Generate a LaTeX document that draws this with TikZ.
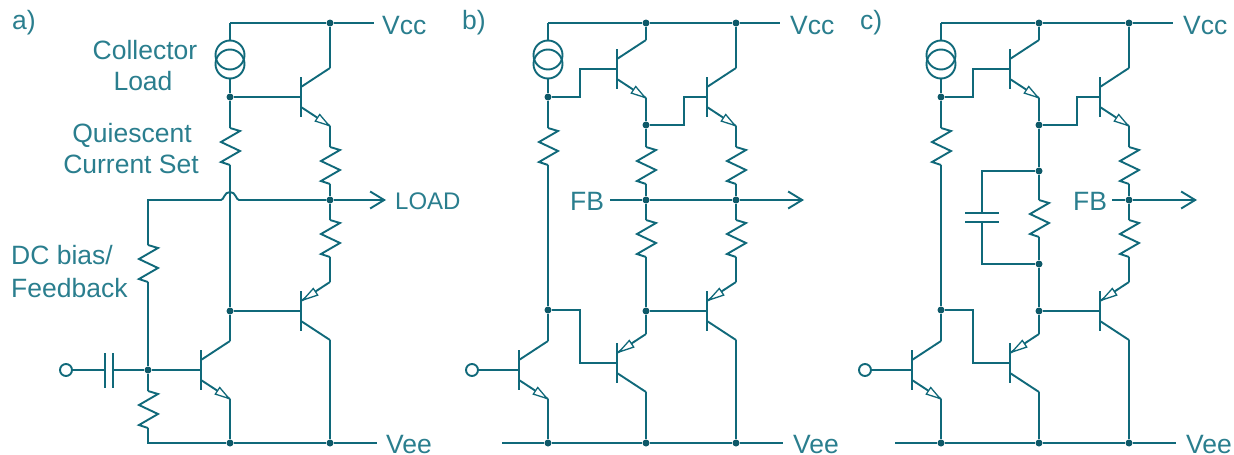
\documentclass[tikz,border=0pt]{standalone}
\usepackage{fontspec}
\setmainfont{Liberation Sans}
\usetikzlibrary{arrows.meta}
\definecolor{wire}{HTML}{10697A}
\definecolor{ink}{HTML}{2A7E8E}
\tikzset{
  wiring/.style={draw=wire,line width=1.9pt,line join=miter},
  dotj/.style={circle,fill=wire!85!black,draw=none,inner sep=0pt,minimum size=7pt},
  srcring/.style={circle,draw=wire,line width=1.9pt,inner sep=0pt,minimum size=29pt},
  portring/.style={circle,draw=wire,line width=1.9pt,inner sep=0pt,minimum size=12pt},
  lbl/.style={text=ink,inner sep=0pt,font=\fontsize{26.5}{30}\selectfont},
  outarrow/.style={-{Straight Barb[length=14pt,width=17pt,line width=1.9pt]}},
}
% transistor: name, bar x, base y; coordinates name (base), name-t, name-b
\newcommand\qbody[3]{%
  \coordinate (#1) at (#2,#3);
  \coordinate (#1-t) at (#2+29,#3-29);
  \coordinate (#1-b) at (#2+29,#3+29);
  \draw[wiring] (#2,#3-20) -- (#2,#3+20);
  \draw[wiring] (#2,#3-10) -- (#1-t);
  \draw[wiring] (#2,#3+10) -- (#1-b);
}
\newcommand\qnpn[3]{\qbody{#1}{#2}{#3}%
  \draw[draw=wire,line width=1.3pt,fill=white] (#2+28,#3+28.5) -- (#2+14.3,#3+24.1) -- (#2+18.7,#3+17.5) -- cycle;}
\newcommand\qpnp[3]{\qbody{#1}{#2}{#3}%
  \draw[draw=wire,line width=1.3pt,fill=white] (#2+2,#3-11) -- (#2+16.7,#3-15.9) -- (#2+12.3,#3-22.5) -- cycle;}
% resistor: name, x, top y
\newcommand\resist[3]{%
  \coordinate (#1-t) at (#2,#3);
  \coordinate (#1-b) at (#2,#3+37);
  \draw[wiring] (#1-t) -- (#2+10,#3+3) -- (#2-9,#3+14) -- (#2+10,#3+23) -- (#2-9,#3+34) -- (#1-b);
}
% current source: name, x
\newcommand\csource[2]{%
  \node[srcring] (#1u) at (#2,55) {};
  \node[srcring] (#1d) at (#2,64) {};
}
% common body of panels b and c
\newcommand\common[1]{%
  \coordinate (#1corner) at (548,23);
  \node[dotj] (#1vc1) at (646,23) {};
  \node[dotj] (#1vc2) at (736,23) {};
  \coordinate (#1vccend) at (780,23);
  \draw[wiring] (#1corner) -- (#1vc1) -- (#1vc2) -- (#1vccend);
  \csource{#1cs}{548}
  \node[dotj] (#1j1) at (548,97) {};
  \draw[wiring] (#1corner) -- (#1csu.north);
  \draw[wiring] (#1csd.south) -- (#1j1);
  \qnpn{#1q1}{617}{69}
  \qnpn{#1q2}{707}{97}
  \qnpn{#1q3}{519}{370}
  \qpnp{#1q4}{617}{363}
  \qpnp{#1q5}{707}{311}
  \draw[wiring] (#1j1) -- (580,97) -- (580,69) -- (#1q1);
  \draw[wiring] (#1q1-t) -- (#1vc1);
  \draw[wiring] (#1q2-t) -- (#1vc2);
  \node[dotj] (#1j2) at (646,125) {};
  \draw[wiring] (#1q1-b) -- (#1j2);
  \draw[wiring] (#1j2) -- (684,125) -- (684,97) -- (#1q2);
  \resist{#1r1}{548}{128}
  \node[dotj] (#1j3) at (548,310) {};
  \draw[wiring] (#1j1) -- (#1r1-t);
  \draw[wiring] (#1r1-b) -- (#1j3);
  \node[dotj] (#1j4) at (646,311) {};
  \draw[wiring] (#1j3) -- (580,310) -- (580,363) -- (#1q4);
  \draw[wiring] (#1j4) -- (#1q5);
  \draw[wiring] (#1q4-t) -- (#1j4);
  \node[dotj] (#1fb2) at (736,200) {};
  \resist{#1r2}{736}{147}
  \resist{#1r3}{736}{220}
  \draw[wiring] (#1q2-b) -- (#1r2-t);
  \draw[wiring] (#1r2-b) -- (#1fb2);
  \draw[wiring] (#1fb2) -- (#1r3-t);
  \draw[wiring] (#1r3-b) -- (#1q5-t);
  \node[portring] (#1in) at (472,370) {};
  \draw[wiring] (#1in) -- (#1q3);
  \draw[wiring] (#1q3-t) -- (#1j3);
  \coordinate (#1veestart) at (502,443);
  \coordinate (#1veeend) at (783,443);
  \node[dotj] (#1ve1) at (548,443) {};
  \node[dotj] (#1ve2) at (646,443) {};
  \node[dotj] (#1ve3) at (736,443) {};
  \draw[wiring] (#1veestart) -- (#1ve1) -- (#1ve2) -- (#1ve3) -- (#1veeend);
  \draw[wiring] (#1q3-b) -- (#1ve1);
  \draw[wiring] (#1q4-b) -- (#1ve2);
  \draw[wiring] (#1q5-b) -- (#1ve3);
  \node[lbl,anchor=west] (#1vcc) at (790,26) {Vcc};
  \node[lbl,anchor=west] (#1vee) at (793,444.5) {Vee};
}
\begin{document}
\begin{tikzpicture}[x=1pt,y=-1pt]
\useasboundingbox (0,0) rectangle (1234,455);
% ---------- panel a
\coordinate (acorner) at (230,23);
\node[dotj] (avc) at (330,23) {};
\coordinate (avccend) at (374,23);
\draw[wiring] (acorner) -- (avc) -- (avccend);
\csource{acs}{230}
\node[dotj] (aj1) at (230,97) {};
\draw[wiring] (acorner) -- (acsu.north);
\draw[wiring] (acsd.south) -- (aj1);
\qnpn{aq1}{301}{97}
\qpnp{aq2}{301}{311}
\qnpn{aq3}{201}{370}
\draw[wiring] (aj1) -- (aq1);
\draw[wiring] (aq1-t) -- (avc);
\resist{ar1}{230}{128}
\resist{ar2}{330}{147}
\resist{ar3}{330}{220}
\resist{ar4}{148}{245}
\resist{ar5}{148}{391}
\node[dotj] (aout) at (330,200) {};
\node[dotj] (aj2) at (230,311) {};
\node[dotj] (aj3) at (148,370) {};
\draw[wiring] (aj1) -- (ar1-t);
\draw[wiring] (ar1-b) -- (aj2);
\draw[wiring] (aj2) -- (aq2);
\draw[wiring] (aq3-t) -- (aj2);
\draw[wiring] (aq1-b) -- (ar2-t);
\draw[wiring] (ar2-b) -- (aout);
\draw[wiring] (aout) -- (ar3-t);
\draw[wiring] (ar3-b) -- (aq2-t);
\coordinate (afbcorner) at (148,200);
\coordinate (aloadtip) at (386,200);
\draw[wiring] (ar4-t) -- (afbcorner) -- (221,200) .. controls (224,200) and (224,192) .. (230,192) .. controls (236,192) and (236,200) .. (239,200) -- (aout);
\draw[wiring,outarrow] (aout) -- (aloadtip);
\draw[wiring] (ar4-b) -- (aj3);
\draw[wiring] (aj3) -- (ar5-t);
\node[portring] (ain) at (66,370) {};
\coordinate (acapl) at (105,370);
\coordinate (acapr) at (113,370);
\draw[wiring] (ain) -- (acapl);
\draw[wiring] (acapr) -- (aj3);
\draw[wiring] (aj3) -- (aq3);
\draw[wiring] (105,353) -- (105,388);
\draw[wiring] (113,353) -- (113,388);
\coordinate (aveecorner) at (148,443);
\coordinate (aveeend) at (377,443);
\node[dotj] (ave1) at (230,443) {};
\node[dotj] (ave2) at (330,443) {};
\draw[wiring] (ar5-b) -- (aveecorner) -- (ave1) -- (ave2) -- (aveeend);
\draw[wiring] (aq3-b) -- (ave1);
\draw[wiring] (aq2-b) -- (ave2);
\node[lbl,anchor=west] (alab) at (12,23) {a)};
\node[lbl] (acoll) at (145,50) {Collector};
\node[lbl] (aload) at (143,81) {Load};
\node[lbl] (aquies) at (132,135) {Quiescent};
\node[lbl] (acurr) at (131,164) {Current Set};
\node[lbl,anchor=west] (adc) at (11,255) {DC bias/};
\node[lbl,anchor=west] (afb) at (11,288) {Feedback};
\node[lbl,anchor=west] (avcc) at (382,26) {Vcc};
\node[lbl,anchor=west,font=\fontsize{24}{28}\selectfont] (aloadl) at (395,201) {LOAD};
\node[lbl,anchor=west] (avee) at (386,444.5) {Vee};
% ---------- panel b
\common{b}
\resist{br4}{646}{147}
\resist{br5}{646}{220}
\node[dotj] (bfb1) at (646,200) {};
\draw[wiring] (bj2) -- (br4-t);
\draw[wiring] (br4-b) -- (bfb1);
\draw[wiring] (bfb1) -- (br5-t);
\draw[wiring] (br5-b) -- (bj4);
\node[lbl,anchor=west] (bfbl) at (570,201) {FB};
\coordinate (bfbs) at (610,200);
\coordinate (bfbe) at (804,200);
\draw[wiring] (bfbs) -- (bfb1) -- (bfb2);
\draw[wiring,outarrow] (bfb2) -- (bfbe);
\node[lbl,anchor=west] (blab) at (462,23) {b)};
% ---------- panel c
\begin{scope}[xshift=393pt]
\common{c}
\node[dotj] (cj5) at (646,171) {};
\node[dotj] (cj6) at (646,264) {};
\resist{cr4}{646}{200}
\draw[wiring] (cj2) -- (cj5);
\draw[wiring] (cj5) -- (cr4-t);
\draw[wiring] (cr4-b) -- (cj6);
\draw[wiring] (cj6) -- (cj4);
\coordinate (ccapt) at (589,213);
\coordinate (ccapb) at (589,222);
\draw[wiring] (cj5) -- (589,171) -- (ccapt);
\draw[wiring] (ccapb) -- (589,264) -- (cj6);
\draw[wiring] (572,213) -- (606,213);
\draw[wiring] (572,222) -- (606,222);
\node[lbl,anchor=west] (cfbl) at (680,201) {FB};
\coordinate (cfbs) at (719,200);
\coordinate (cfbe) at (804,200);
\draw[wiring] (cfbs) -- (cfb2);
\draw[wiring,outarrow] (cfb2) -- (cfbe);
\node[lbl,anchor=west] (clab) at (467,23) {c)};
\end{scope}
\end{tikzpicture}
\end{document}
